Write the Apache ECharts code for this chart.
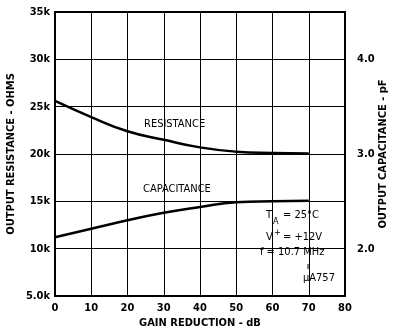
<!DOCTYPE html>
<html><head><meta charset="utf-8">
<script src="https://cdn.jsdelivr.net/npm/echarts@6/dist/echarts.min.js"></script>
<style>html,body{margin:0;padding:0;background:#fff}#c{width:394px;height:334px}</style>
</head><body><div id="c"></div>
<script>
const gainReduction = [0, 10, 20, 30, 40, 50, 60, 70];
const resistanceOhms = [25600, 23900, 22400, 21500, 20700, 20250, 20100, 20050];
const capacitancePf = [2.12, 2.21, 2.30, 2.38, 2.44, 2.49, 2.50, 2.505];
const leftTicks = {5000:'5.0k',10000:'10k',15000:'15k',20000:'20k',25000:'25k',30000:'30k',35000:'35k'};
const rightTicks = {2:'2.0',3:'3.0',4:'4.0'};

const FONT = '"Liberation Sans Narrow","DejaVu Sans Condensed","Liberation Sans",sans-serif';
const chart = echarts.init(document.getElementById('c'), null, {renderer:'canvas'});
const lab = {fontFamily:FONT, fontWeight:'bold', fontSize:11, color:'#000'};
chart.setOption({
  animation:false,
  backgroundColor:'#fff',
  grid:{left:55, right:49, top:12, bottom:38, show:true, borderColor:'#000', borderWidth:2,
        containLabel:false, outerBoundsMode:'none'},
  xAxis:{type:'value', min:0, max:80, interval:10,
    name:'GAIN REDUCTION - dB', nameLocation:'middle', nameGap:22, nameMoveOverlap:false,
    nameTextStyle:lab,
    axisLine:{show:true, lineStyle:{color:'#000', width:2}},
    axisTick:{show:false},
    axisLabel:Object.assign({margin:7}, lab),
    splitLine:{show:true, lineStyle:{color:'#000', width:1}}},
  yAxis:[{type:'value', min:5000, max:35000, interval:5000,
    name:'OUTPUT RESISTANCE - OHMS', nameLocation:'middle', nameGap:38, nameRotate:90, nameMoveOverlap:false,
    nameTextStyle:lab,
    axisLine:{show:true, lineStyle:{color:'#000', width:2}},
    axisTick:{show:false},
    axisLabel:Object.assign({margin:5, formatter:v=>leftTicks[v]||''}, lab),
    splitLine:{show:true, lineStyle:{color:'#000', width:1}}},
   {type:'value', min:1.5, max:4.5, interval:0.5, position:'right',
    name:'OUTPUT CAPACITANCE - pF', nameLocation:'middle', nameGap:33, nameRotate:90, nameMoveOverlap:false,
    nameTextStyle:lab,
    axisLine:{show:true, lineStyle:{color:'#000', width:2}},
    axisTick:{show:false},
    axisLabel:Object.assign({margin:12, formatter:v=>rightTicks[v]||''}, lab),
    splitLine:{show:false}}],
  series:[
    {type:'line', name:'RESISTANCE', yAxisIndex:0, smooth:true, symbol:'none',
     lineStyle:{color:'#000', width:2.5},
     data:gainReduction.map((x,i)=>[x, resistanceOhms[i]])},
    {type:'line', name:'CAPACITANCE', yAxisIndex:1, smooth:true, symbol:'none',
     lineStyle:{color:'#000', width:2.5},
     data:gainReduction.map((x,i)=>[x, capacitancePf[i]])}
  ],
  graphic:[
    {type:'text', left:144, top:119, style:{text:'RESISTANCE', font:'11px '+FONT, fill:'#000'}},
    {type:'text', left:143, top:184, style:{text:'CAPACITANCE', font:'11px '+FONT, fill:'#000'}},
    {type:'rect', shape:{x:262, y:209, width:62, height:20}, style:{fill:'#fff'}},
    {type:'text', left:266, top:210, style:{text:'T', font:'11px '+FONT, fill:'#000'}},
    {type:'text', left:273, top:217, style:{text:'A', font:'9px '+FONT, fill:'#000'}},
    {type:'text', left:283, top:210, style:{text:'= 25°C', font:'11px '+FONT, fill:'#000'}},
    {type:'text', left:266, top:232, style:{text:'V', font:'11px '+FONT, fill:'#000'}},
    {type:'text', left:274, top:228, style:{text:'+', font:'9px '+FONT, fill:'#000'}},
    {type:'text', left:283, top:232, style:{text:'= +12V', font:'11px '+FONT, fill:'#000'}},
    {type:'rect', shape:{x:258, y:246, width:74, height:14}, style:{fill:'#fff'}},
    {type:'text', left:260, top:247, style:{text:'f = 10.7 MHz', font:'11px '+FONT, fill:'#000'}},
    {type:'line', shape:{x1:308, y1:264, x2:308, y2:269}, style:{stroke:'#000', lineWidth:1}},
    {type:'rect', shape:{x:302, y:272, width:34, height:14}, style:{fill:'#fff'}},
    {type:'text', left:303, top:273, style:{text:'µA757', font:'11px '+FONT, fill:'#000'}}
  ]
});
</script></body></html>
